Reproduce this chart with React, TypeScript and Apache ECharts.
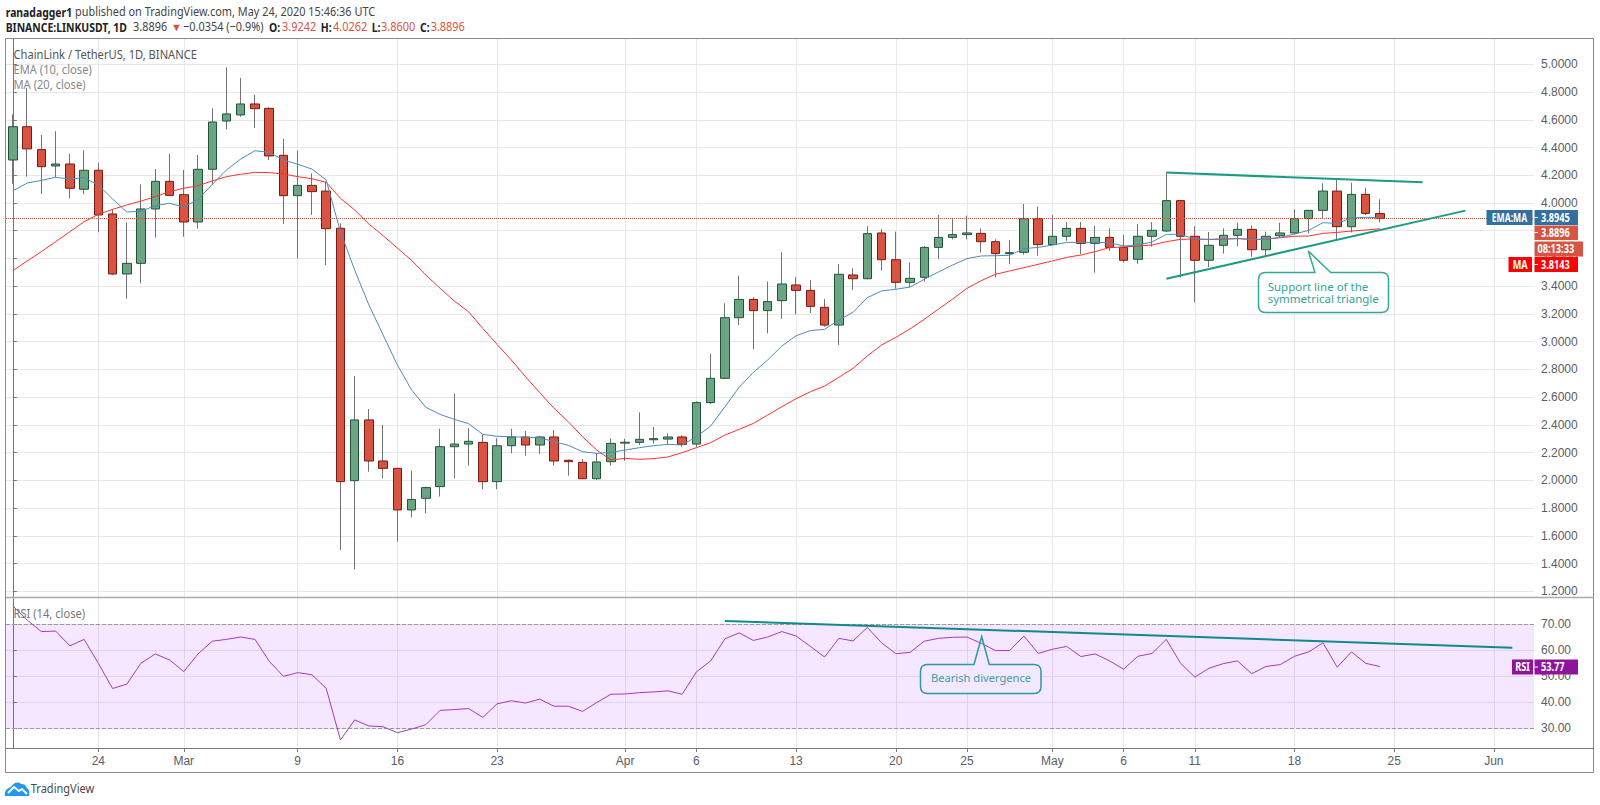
import { useEffect, useRef } from 'react';
import * as echarts from 'echarts';

// daily candles, 18 Feb to 24 May 2020
const opens = [4.31,4.55,4.385,4.267,4.281,4.099,4.236,3.921,3.488,3.565,3.957,4.156,4.06,3.863,4.243,4.591,4.635,4.714,4.682,4.344,4.053,4.127,4.086,3.818,1.998,2.436,2.14,2.087,1.787,1.871,1.955,2.243,2.262,2.274,1.991,2.25,2.313,2.255,2.313,2.145,2.13,2.012,2.135,2.269,2.274,2.293,2.298,2.313,2.262,2.561,2.736,3.173,3.305,3.224,3.296,3.409,3.37,3.248,3.12,3.481,3.454,3.784,3.591,3.428,3.464,3.68,3.752,3.772,3.781,3.721,3.635,3.644,3.887,3.7,3.76,3.817,3.709,3.752,3.68,3.594,3.76,3.798,4.017,3.76,3.587,3.695,3.767,3.81,3.663,3.764,3.784,3.887,3.947,4.086,3.829,4.062,3.9242];
const closes = [4.55,4.39,4.262,4.281,4.106,4.236,3.914,3.488,3.565,3.957,4.156,4.055,3.863,4.243,4.584,4.642,4.714,4.68,4.339,4.053,4.127,4.082,3.815,1.991,2.436,2.14,2.087,1.787,1.863,1.948,2.243,2.262,2.282,1.991,2.25,2.313,2.255,2.313,2.14,2.135,2.012,2.133,2.267,2.275,2.296,2.301,2.313,2.26,2.561,2.736,3.173,3.305,3.224,3.289,3.416,3.37,3.255,3.12,3.486,3.454,3.779,3.591,3.428,3.457,3.68,3.752,3.772,3.784,3.721,3.635,3.642,3.887,3.7,3.76,3.817,3.709,3.752,3.68,3.587,3.76,3.803,4.017,3.76,3.587,3.695,3.767,3.81,3.663,3.76,3.784,3.887,3.947,4.086,3.829,4.062,3.925,3.8896];
const lows = [4.139,4.19,4.065,4.185,4.034,4.065,3.789,3.48,3.31,3.421,3.75,4.05,3.757,3.815,4.13,4.531,4.622,4.541,4.31,3.849,3.601,3.914,3.553,1.498,1.359,2.063,2.015,1.558,1.734,1.763,1.883,2.015,2.106,1.936,1.936,2.195,2.178,2.19,2.106,2.034,2.01,2.003,2.106,2.14,2.255,2.267,2.26,2.243,2.24,2.55,2.73,3.12,2.945,3.06,3.164,3.197,3.207,3.108,2.976,3.373,3.45,3.512,3.382,3.392,3.433,3.596,3.738,3.738,3.642,3.464,3.558,3.627,3.62,3.695,3.728,3.632,3.498,3.654,3.57,3.562,3.685,3.79,3.462,3.286,3.538,3.635,3.69,3.613,3.62,3.752,3.774,3.781,3.887,3.728,3.788,3.913,3.86];
const highs = [4.639,4.83,4.49,4.517,4.353,4.38,4.288,3.954,3.861,4.135,4.245,4.353,4.238,4.346,4.683,4.978,4.901,4.779,4.69,4.461,4.375,4.214,4.154,3.854,2.753,2.515,2.4,2.09,2.07,1.955,2.373,2.625,2.378,2.332,2.303,2.373,2.356,2.32,2.363,2.15,2.154,2.195,2.303,2.3,2.49,2.385,2.339,2.325,2.57,2.911,3.277,3.476,3.32,3.435,3.644,3.464,3.445,3.308,3.56,3.529,3.834,3.813,3.793,3.572,3.69,3.913,3.889,3.909,3.817,3.738,3.733,3.993,3.974,3.913,3.863,3.863,3.834,3.817,3.769,3.848,3.863,4.219,4.02,3.832,3.791,3.817,3.858,3.839,3.793,3.858,3.954,3.95,4.142,4.171,4.146,4.11,4.0262];

const ema10 = [4.087,4.144,4.163,4.185,4.173,4.183,4.13,4.029,3.935,3.94,3.981,3.998,3.971,4.026,4.134,4.238,4.317,4.377,4.365,4.31,4.279,4.245,4.166,3.793,3.517,3.265,3.048,2.832,2.652,2.527,2.476,2.44,2.409,2.332,2.318,2.315,2.31,2.308,2.279,2.253,2.207,2.195,2.202,2.219,2.236,2.25,2.26,2.255,2.315,2.392,2.531,2.671,2.779,2.868,2.969,3.043,3.08,3.089,3.156,3.212,3.317,3.366,3.378,3.394,3.45,3.503,3.553,3.599,3.618,3.62,3.623,3.671,3.68,3.697,3.716,3.716,3.716,3.714,3.69,3.697,3.719,3.774,3.774,3.74,3.736,3.743,3.745,3.736,3.74,3.752,3.776,3.803,3.858,3.853,3.892,3.897,3.8945];
const ma20 = [3.512,3.582,3.649,3.721,3.793,3.865,3.918,3.954,3.986,4.014,4.046,4.082,4.106,4.125,4.159,4.19,4.207,4.221,4.219,4.209,4.19,4.175,4.149,4.034,3.95,3.848,3.764,3.675,3.586,3.48,3.385,3.293,3.216,3.096,2.981,2.868,2.748,2.632,2.52,2.423,2.315,2.219,2.147,2.159,2.152,2.157,2.169,2.2,2.236,2.272,2.327,2.368,2.411,2.471,2.531,2.589,2.639,2.68,2.743,2.808,2.897,2.976,3.031,3.092,3.161,3.236,3.308,3.385,3.44,3.486,3.51,3.534,3.558,3.582,3.608,3.625,3.649,3.678,3.683,3.69,3.697,3.721,3.738,3.74,3.738,3.738,3.743,3.738,3.738,3.75,3.76,3.762,3.781,3.788,3.798,3.805,3.8143];
const rsi14 = [77.05,71.67,67.2,67.4,61.7,64.2,55,45.3,47,55.1,58.6,56.3,51.8,58.6,63.5,64.2,65.1,64.2,55.8,50,51.4,50.6,45.4,25.5,33.2,30.9,30.6,28.3,29.7,31.4,36.9,37.2,37.6,34.2,39.4,40.6,39.7,41.2,38.5,38.5,36.5,39.9,43.1,43.2,43.7,44,44.4,43.1,51.7,55.9,64.4,66.7,63.8,65.1,67.2,65.5,61.5,57.4,64.6,63.6,68.8,62.9,58.7,59.2,63.5,64.6,65,65.1,62.7,59.9,59.9,65.5,58.8,60.4,61.5,57.6,58.6,56,52.7,57.7,58.8,64.2,55,49.7,53.1,54.9,55.9,51,53.8,54.5,57.7,59.4,62.9,53.5,59.4,55,53.77];

// hand drawn trend lines, [day index, value]
const triangleTop = [[81, 4.219], [99, 4.149]];
const triangleSupport = [[81, 3.454], [102, 3.945]];
const rsiTrend = [[50, 71.3], [105.3, 61]];

const lastPrice = 3.8896;
const priceTicks = [1.2,1.4,1.6,1.8,2,2.2,2.4,2.6,2.8,3,3.2,3.4,3.6,3.8,4,4.2,4.4,4.6,4.8,5];
const rsiTicks = [30,40,50,60,70];
const dateTicks = [6,12,20,27,34,43,48,55,62,67,73,78,83,90,97,104];
const dateLabels = ['24','Mar','9','16','23','Apr','6','13','20','25','May','6','11','18','25','Jun'];

const FONT = '"Noto Sans", sans-serif';
const AXIS_FONT = '"Liberation Sans Narrow", "Liberation Sans", sans-serif';
const UP = '#6ba583';
const DOWN = '#d75442';
const GRID = '#e8e8e8';
const AXIS = '#777777';
const LABEL = '#5a5d66';
const TEAL = '#1a9c84';

echarts.graphic.registerShape('supportCallout', echarts.graphic.extendPath(
  'M1265.5 272.5 L1315 272.5 L1308.3 251 L1330.7 272.5 L1381.5 272.5 Q1388.5 272.5 1388.5 279.5 L1388.5 305.5 Q1388.5 312.5 1381.5 312.5 L1265.5 312.5 Q1258.5 312.5 1258.5 305.5 L1258.5 279.5 Q1258.5 272.5 1265.5 272.5 Z', {}));
echarts.graphic.registerShape('rsiCallout', echarts.graphic.extendPath(
  'M927.5 664.5 L974 664.5 L981.7 636.7 L989.3 664.5 L1034 664.5 Q1041 664.5 1041 671.5 L1041 686.5 Q1041 693.5 1034 693.5 L927.5 693.5 Q920.5 693.5 920.5 686.5 L920.5 671.5 Q920.5 664.5 927.5 664.5 Z', {}));
echarts.graphic.registerShape('tvCloud', echarts.graphic.extendPath(
  'M5 796 C4 791 7 788 11 787 C13 783 18 781 21 784 C24 784 26 785 26.5 787.5 C29 789 30 793 29 796 Z', {}));

// the screenshot's text is tall and narrow, so most of it is squeezed with scaleX
const text = (x: number, y: number, t: string, fill: string, size = 12, weight = 'normal', align = 'left', sx = 1) => ({
  type: 'text',
  x,
  y,
  z: 20,
  scaleX: sx,
  style: { text: t, fill, fontFamily: FONT, fontSize: size, fontWeight: weight, align, verticalAlign: 'middle' },
});
const head = (x: number, y: number, t: string, fill: string) => text(x, y, t, fill, 13, 'normal', 'left', 0.84);
const headBold = (x: number, y: number, t: string) => text(x, y, t, '#222', 13, 'bold', 'left', 0.8);
const legend = (y: number, t: string, fill: string) => text(13.5, y, t, fill, 12, 'normal', 'left', 0.93);
const tag = (x: number, y: number, t: string, align = 'left', sx = 0.8) => text(x, y, t, '#fff', 11.5, 'bold', align, sx);

const box = (x: number, y: number, w: number, h: number, fill: string) => ({
  type: 'rect',
  z: 15,
  shape: { x, y, width: w, height: h },
  style: { fill },
});

const App = () => {
  const chartRef = useRef<HTMLDivElement>(null);

  useEffect(() => {
    if (!chartRef.current) return;
    const chart = echarts.init(chartRef.current, undefined, { renderer: 'svg' });

    const days = closes.map((_, i) => i);
    const xCommon = {
      type: 'value',
      min: -0.4846,
      max: 106.82,
      axisLine: { lineStyle: { color: AXIS } },
      splitLine: { show: true, lineStyle: { color: GRID, width: 1 } },
    };
    const yCommon = {
      type: 'value',
      position: 'right',
      axisLine: { show: true, lineStyle: { color: AXIS } },
      splitLine: { show: true, lineStyle: { color: GRID, width: 1 } },
    };

    const options: any = {
      backgroundColor: '#fff',
      animation: false,
      textStyle: { fontFamily: FONT },
      grid: [
        { left: 6, width: 1528, top: 39, height: 558.5 },
        { left: 6, width: 1528, top: 598, height: 150 },
      ],
      xAxis: [
        {
          ...xCommon,
          gridIndex: 0,
          axisTick: { show: false, customValues: dateTicks },
          axisLabel: { show: false, customValues: dateTicks },
        },
        {
          ...xCommon,
          gridIndex: 1,
          axisTick: { show: true, length: 4, lineStyle: { color: AXIS }, customValues: dateTicks },
          axisLabel: {
            show: true,
            customValues: dateTicks,
            color: LABEL,
            fontFamily: AXIS_FONT,
            fontSize: 12,
            margin: 7,
            formatter: (v: number) => dateLabels[dateTicks.indexOf(v)] ?? '',
          },
        },
      ],
      yAxis: [
        {
          ...yCommon,
          gridIndex: 0,
          min: 1.1557,
          max: 5.1824,
          axisTick: { show: true, length: 4, lineStyle: { color: AXIS }, customValues: priceTicks },
          axisLabel: {
            customValues: priceTicks,
            color: LABEL,
            fontFamily: AXIS_FONT,
            fontSize: 12,
            margin: 7,
            formatter: (v: number) => v.toFixed(4),
          },
        },
        {
          ...yCommon,
          gridIndex: 1,
          min: 22.42,
          max: 80.12,
          axisTick: { show: true, length: 4, lineStyle: { color: AXIS }, customValues: rsiTicks },
          axisLabel: {
            customValues: rsiTicks,
            color: LABEL,
            fontFamily: AXIS_FONT,
            fontSize: 12,
            margin: 7,
            formatter: (v: number) => v.toFixed(2),
          },
        },
      ],
      series: [
        {
          // wicks are a grey candle one pixel wide, bodies go on top
          name: 'Wicks',
          type: 'candlestick',
          barWidth: 1,
          silent: true,
          data: days.map(i => [i, opens[i], closes[i], lows[i], highs[i]]),
          itemStyle: { color: '#737375', color0: '#737375', borderColor: '#737375', borderColor0: '#737375', borderWidth: 1 },
          markLine: {
            silent: true,
            symbol: ['none', 'none'],
            label: { show: false },
            lineStyle: { type: 'dotted', color: '#e0483a', width: 1 },
            data: [{ yAxis: lastPrice }],
          },
        },
        {
          name: 'Bodies',
          type: 'candlestick',
          barWidth: 9,
          silent: true,
          data: days.map(i => [i, opens[i], closes[i], Math.min(opens[i], closes[i]), Math.max(opens[i], closes[i])]),
          itemStyle: { color: UP, color0: DOWN, borderColor: '#225437', borderColor0: '#7a1a10', borderWidth: 1 },
        },
        {
          name: 'MA',
          type: 'line',
          symbol: 'none',
          silent: true,
          data: days.map(i => [i, ma20[i]]),
          lineStyle: { color: '#ff3030', width: 1 },
          z: 5,
        },
        {
          name: 'EMA',
          type: 'line',
          symbol: 'none',
          silent: true,
          data: days.map(i => [i, ema10[i]]),
          lineStyle: { color: '#4f8bbd', width: 1 },
          z: 6,
        },
        {
          name: 'Triangle top',
          type: 'line',
          symbol: 'none',
          silent: true,
          data: triangleTop,
          lineStyle: { color: TEAL, width: 2 },
          z: 7,
        },
        {
          name: 'Triangle support',
          type: 'line',
          symbol: 'none',
          silent: true,
          data: triangleSupport,
          lineStyle: { color: TEAL, width: 2 },
          z: 7,
        },
        {
          name: 'RSI',
          type: 'line',
          xAxisIndex: 1,
          yAxisIndex: 1,
          symbol: 'none',
          silent: true,
          data: days.map(i => [i, rsi14[i]]),
          lineStyle: { color: '#a53bbd', width: 1 },
          z: 5,
          markArea: {
            silent: true,
            itemStyle: { color: 'rgba(153, 21, 255, 0.1)' },
            data: [[{ yAxis: 70 }, { yAxis: 30 }]],
          },
          markLine: {
            silent: true,
            symbol: ['none', 'none'],
            label: { show: false },
            lineStyle: { type: 'dashed', color: '#9a9a9a', width: 1 },
            data: [{ yAxis: 70 }, { yAxis: 30 }],
          },
        },
        {
          name: 'RSI trend',
          type: 'line',
          xAxisIndex: 1,
          yAxisIndex: 1,
          symbol: 'none',
          silent: true,
          data: rsiTrend,
          lineStyle: { color: '#0f8b8d', width: 2 },
          z: 7,
        },
      ],
      graphic: [
        // frame and pane separator
        {
          type: 'rect',
          z: 10,
          shape: { x: 5.5, y: 38.5, width: 1588, height: 734 },
          style: { fill: 'none', stroke: '#8a8a8a', lineWidth: 1 },
        },
        {
          type: 'line',
          z: 10,
          shape: { x1: 6, y1: 597.5, x2: 1594, y2: 597.5 },
          style: { stroke: '#aaaaaa', lineWidth: 1.5 },
        },
        {
          type: 'line',
          z: 10,
          shape: { x1: 1534, y1: 748.5, x2: 1594, y2: 748.5 },
          style: { stroke: AXIS, lineWidth: 1 },
        },

        // publish header
        headBold(5.7, 11, 'ranadagger1'),
        head(75, 11, 'published on TradingView.com, May 24, 2020 15:46:36 UTC', '#444'),
        headBold(5.7, 26.5, 'BINANCE:LINKUSDT, 1D'),
        head(133, 26.5, '3.8896', '#444'),
        text(171, 26.5, '▼', DOWN, 11),
        head(183, 26.5, '−0.0354 (−0.9%)', '#444'),
        headBold(269, 26.5, 'O:'),
        head(282, 26.5, '3.9242', DOWN),
        headBold(320.7, 26.5, 'H:'),
        head(333, 26.5, '4.0262', DOWN),
        headBold(371.7, 26.5, 'L:'),
        head(381, 26.5, '3.8600', DOWN),
        headBold(420, 26.5, 'C:'),
        head(430.7, 26.5, '3.8896', DOWN),

        // pane legends
        legend(54, 'ChainLink / TetherUS, 1D, BINANCE', '#555'),
        legend(69, 'EMA (10, close)', '#888'),
        legend(84.5, 'MA (20, close)', '#888'),
        legend(613.3, 'RSI (14, close)', '#777'),

        // callouts
        box(1259, 273, 129, 39, '#ffffff'),
        { type: 'supportCallout', z: 16, x: 0, y: 0, style: { fill: 'none', stroke: '#35a899', lineWidth: 1.5 } },
        text(1267.7, 286.5, 'Support line of the', '#2fa596', 11.5),
        text(1267.7, 298, 'symmetrical triangle', '#2fa596', 11.5),
        box(921, 665, 119.5, 28, '#f4e8fe'),
        { type: 'rsiCallout', z: 16, x: 0, y: 0, style: { fill: 'none', stroke: '#2d98a6', lineWidth: 1.5 } },
        text(981, 677.7, 'Bearish divergence', '#3f9aa8', 11.5, 'normal', 'center', 0.97),

        // price scale tags
        box(1486.5, 210, 46, 15, '#33709f'),
        box(1534.5, 210, 43.5, 15, '#33709f'),
        box(1534.5, 217, 3.5, 1, '#fff'),
        tag(1509.5, 217.5, 'EMA:MA', 'center', 0.75),
        tag(1541, 217.5, '3.8945'),
        box(1534.5, 225.5, 43.5, 14.5, DOWN),
        box(1534.5, 232, 3.5, 1, '#fff'),
        tag(1541, 232.7, '3.8896'),
        box(1534.5, 241.5, 48.5, 15, DOWN),
        tag(1537.5, 249, '08:13:33'),
        box(1508.5, 257, 23.5, 15, '#ff0000'),
        box(1534.5, 257, 43.5, 15, '#ff0000'),
        box(1534.5, 264, 3.5, 1, '#fff'),
        tag(1520.2, 264.5, 'MA', 'center', 0.8),
        tag(1541, 264.5, '3.8143'),
        box(1512, 659.5, 21, 15, '#8e1599'),
        box(1534.5, 659.5, 43.5, 15, '#8e1599'),
        box(1534.5, 666.5, 3.5, 1, '#fff'),
        tag(1522.5, 667, 'RSI', 'center', 0.8),
        tag(1541, 667, '53.77'),

        // TradingView mark
        { type: 'tvCloud', z: 16, x: 0, y: 0, style: { fill: '#2196f3' } },
        {
          type: 'polyline',
          z: 17,
          shape: { points: [[8, 793], [14, 787], [19, 791], [22, 789], [27, 794]] },
          style: { fill: 'none', stroke: '#fff', lineWidth: 2 },
        },
        text(30.7, 788.5, 'TradingView', '#4a4a4a', 13.5, 'normal', 'left', 0.82),
      ],
    };

    chart.setOption(options);
    return () => chart.dispose();
  }, []);

  return (
    <div
      ref={chartRef}
      style={{ position: 'absolute', left: 0, top: 0, width: 1600, height: 805, background: '#fff' }}
    />
  );
};

export default App;
